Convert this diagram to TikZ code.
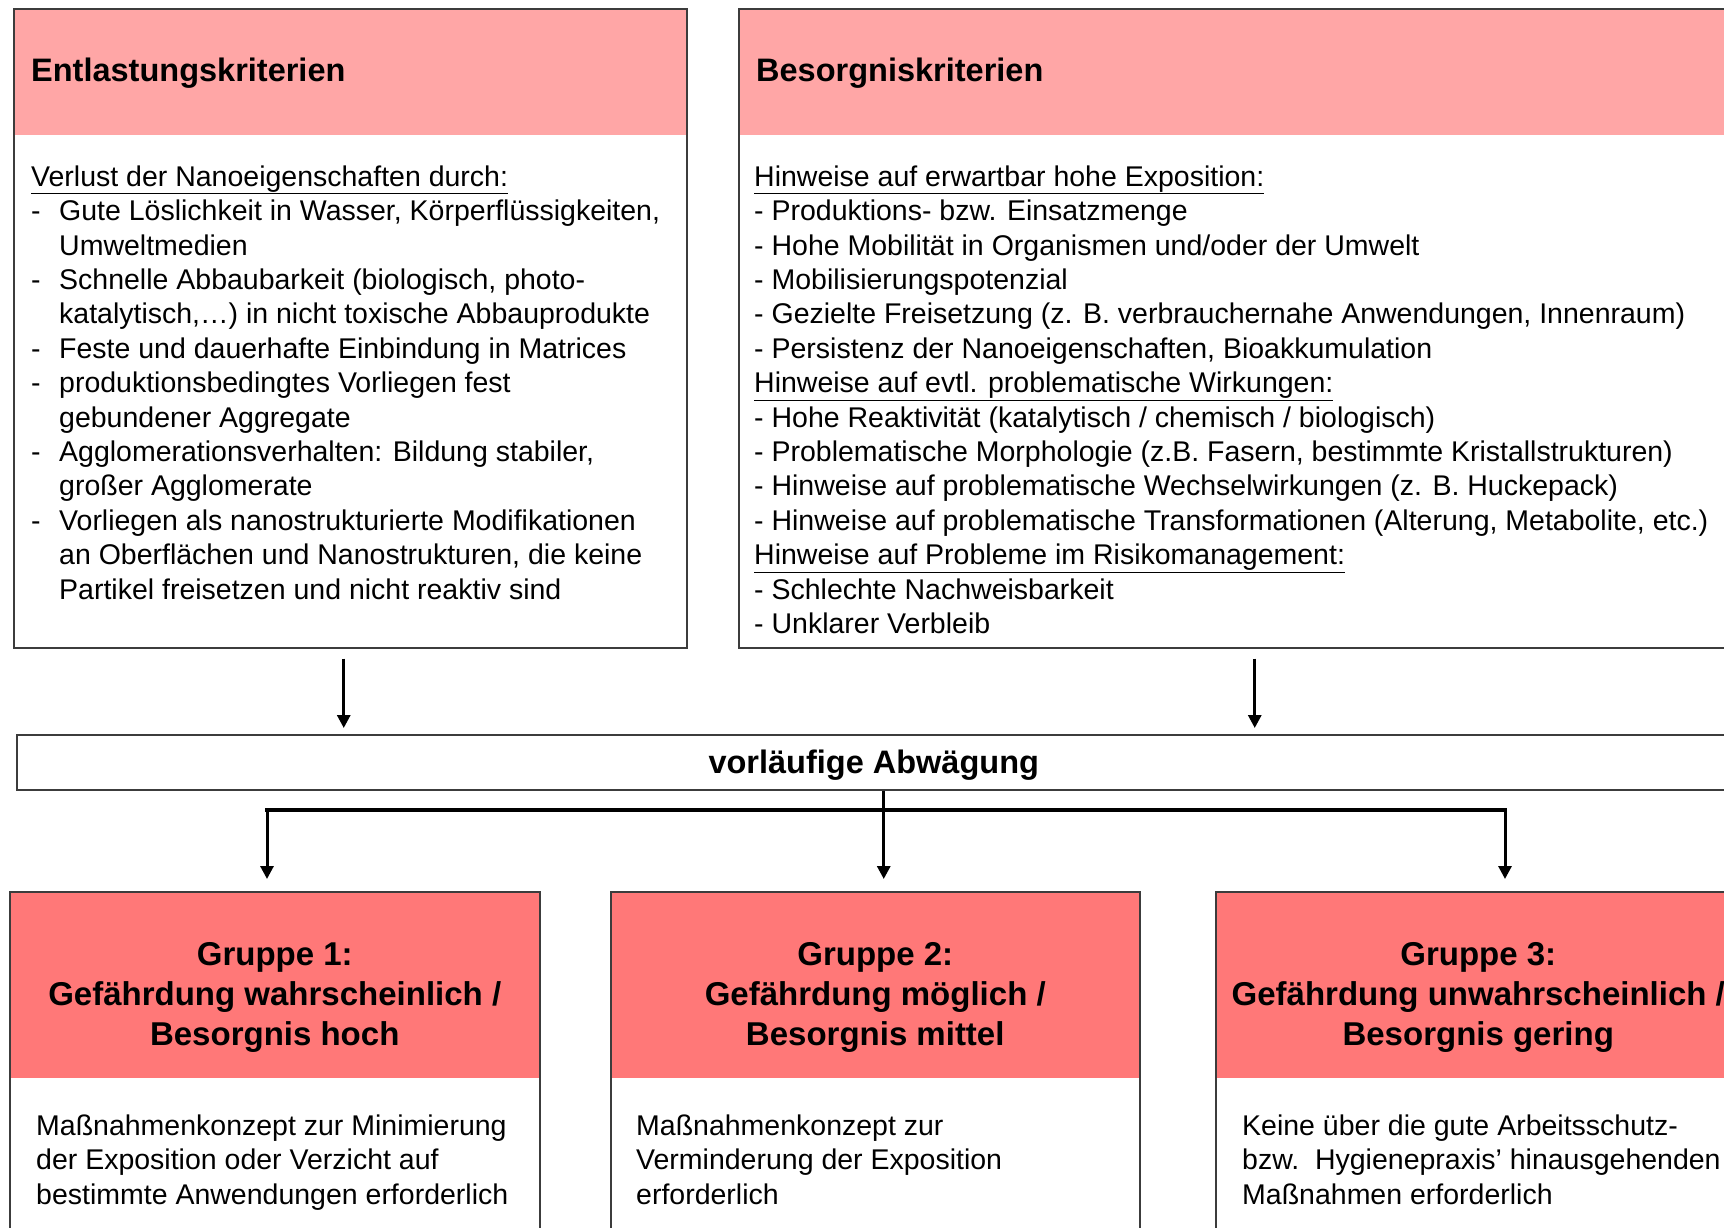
\documentclass[tikz,border=0pt]{standalone}
\usepackage{fontspec}
\setmainfont{Liberation Sans}
\usepackage{xcolor}
\usepackage{tikz}
\usetikzlibrary{arrows.meta, positioning}

\definecolor{kopfhell}{RGB}{255,166,166}
\definecolor{kopfrot}{RGB}{255,120,120}
\definecolor{rahmen}{RGB}{60,60,60}

\newcommand{\strich}[1]{\makebox[28pt][l]{-}#1}
\newcommand{\weiter}[1]{\hspace*{28pt}#1}

\begin{document}
\begin{tikzpicture}[x=1pt, y=-1pt,
    every node/.style={inner sep=0pt},
    kasten/.style={draw=rahmen, line width=1.5pt, rectangle, anchor=north west},
    kopf/.style 2 args={path picture={\fill[#1] (path picture bounding box.north west) rectangle ([yshift=-#2]path picture bounding box.north east);}},
    titel/.style={font=\fontsize{32.5pt}{39pt}\selectfont\bfseries},
    gruppe/.style={font=\fontsize{33pt}{39.6pt}\selectfont\bfseries, align=center},
    liste/.style={font=\fontsize{28.5pt}{34.4pt}\selectfont, align=left, anchor=north west},
    pfeil/.style={line width=3pt, -{Triangle[length=13pt, width=13pt]}},
    balken/.style={line width=4.5pt, line cap=rect}]

    \useasboundingbox (0,0) rectangle (1724,1227);
    \clip (0,0) rectangle (1724,1227);

    % Kriterien
    \node[kasten, kopf={kopfhell}{126pt}, minimum width=673pt, minimum height=639pt] (entl) at (13,8) {};
    \node[titel, anchor=west] (entltitel) at ([xshift=18pt, yshift=-65.5pt]entl.north west) {Entlastungskriterien};
    \node[liste] (entlliste) at ([xshift=18pt, yshift=-154pt]entl.north west) {%
        \strut\underline{Verlust der Nanoeigenschaften durch:}\\
        \strich{Gute Löslichkeit in Wasser, Körperflüssigkeiten,}\\
        \weiter{Umweltmedien}\\
        \strich{Schnelle Abbaubarkeit (biologisch, photo-}\\
        \weiter{katalytisch,\dots) in nicht toxische Abbauprodukte}\\
        \strich{Feste und dauerhafte Einbindung in Matrices}\\
        \strich{produktionsbedingtes Vorliegen fest}\\
        \weiter{gebundener Aggregate}\\
        \strich{Agglomerationsverhalten: Bildung stabiler,}\\
        \weiter{großer Agglomerate}\\
        \strich{Vorliegen als nanostrukturierte Modifikationen}\\
        \weiter{an Oberflächen und Nanostrukturen, die keine}\\
        \weiter{Partikel freisetzen und nicht reaktiv sind}};

    \node[kasten, kopf={kopfhell}{126pt}, minimum width=1032pt, minimum height=639pt] (besorg) at (738,8) {};
    \node[titel, anchor=west] (besorgtitel) at ([xshift=18pt, yshift=-65.5pt]besorg.north west) {Besorgniskriterien};
    \node[liste] (besorgliste) at ([xshift=16pt, yshift=-154pt]besorg.north west) {%
        \strut\underline{Hinweise auf erwartbar hohe Exposition:}\\
        - Produktions- bzw. Einsatzmenge\\
        - Hohe Mobilität in Organismen und/oder der Umwelt\\
        - Mobilisierungspotenzial\\
        - Gezielte Freisetzung (z. B. verbrauchernahe Anwendungen, Innenraum)\\
        - Persistenz der Nanoeigenschaften, Bioakkumulation\\
        \underline{Hinweise auf evtl. problematische Wirkungen:}\\
        - Hohe Reaktivität (katalytisch / chemisch / biologisch)\\
        - Problematische Morphologie (z.B. Fasern, bestimmte Kristallstrukturen)\\
        - Hinweise auf problematische Wechselwirkungen (z. B. Huckepack)\\
        - Hinweise auf problematische Transformationen (Alterung, Metabolite, etc.)\\
        \underline{Hinweise auf Probleme im Risikomanagement:}\\
        - Schlechte Nachweisbarkeit\\
        - Unklarer Verbleib};

    % Abwaegung
    \node[kasten, minimum width=1714pt, minimum height=55pt] (abw) at (16,734) {};
    \node[titel] (abwtext) at ([yshift=-3pt]abw.center) {vorläufige Abwägung};

    % Gruppen
    \node[kasten, kopf={kopfrot}{186pt}, minimum width=530pt, minimum height=400pt] (g1) at (9,891) {};
    \node[kasten, kopf={kopfrot}{186pt}, minimum width=529pt, minimum height=400pt] (g2) at (610,891) {};
    \node[kasten, kopf={kopfrot}{186pt}, minimum width=525pt, minimum height=400pt] (g3) at (1215,891) {};

    \node[gruppe] (g1titel) at ([yshift=-106.5pt]g1.north) {Gruppe 1:\\Gefährdung wahrscheinlich /\\Besorgnis hoch};
    \node[gruppe] (g2titel) at ([yshift=-106.5pt]g2.north) {Gruppe 2:\\Gefährdung möglich /\\Besorgnis mittel};
    \node[gruppe] (g3titel) at ([yshift=-106.5pt]g3.north) {Gruppe 3:\\Gefährdung unwahrscheinlich /\\Besorgnis gering};

    \node[liste] (g1text) at ([xshift=27pt, yshift=-220pt]g1.north west) {%
        \strut Maßnahmenkonzept zur Minimierung\\
        der Exposition oder Verzicht auf\\
        bestimmte Anwendungen erforderlich};
    \node[liste] (g2text) at ([xshift=26pt, yshift=-220pt]g2.north west) {%
        \strut Maßnahmenkonzept zur\\
        Verminderung der Exposition\\
        erforderlich};
    \node[liste] (g3text) at ([xshift=27pt, yshift=-220pt]g3.north west) {%
        \strut Keine über die gute Arbeitsschutz-\\
        bzw.\ \ Hygienepraxis' hinausgehenden\\
        Maßnahmen erforderlich};

    % Pfeile
    \draw[pfeil, shorten <=10pt, shorten >=6pt] ([xshift=-6.5pt]entl.south) -- ([xshift=-6.5pt]entl.south |- abw.north);
    \draw[pfeil, shorten <=10pt, shorten >=6pt] (besorg.south) -- (besorg.south |- abw.north);

    \coordinate (linksab) at (267,810);
    \coordinate (rechtsab) at (1505,810);
    \draw[balken] (linksab) -- (rechtsab);
    \draw[pfeil, shorten >=12pt] ([xshift=10pt]abw.south) -- ([xshift=10pt]abw.south |- g2.north);
    \draw[pfeil, shorten >=12pt] (linksab) -- (linksab |- g1.north);
    \draw[pfeil, shorten >=12pt] (rechtsab) -- (rechtsab |- g3.north);
\end{tikzpicture}
\end{document}
